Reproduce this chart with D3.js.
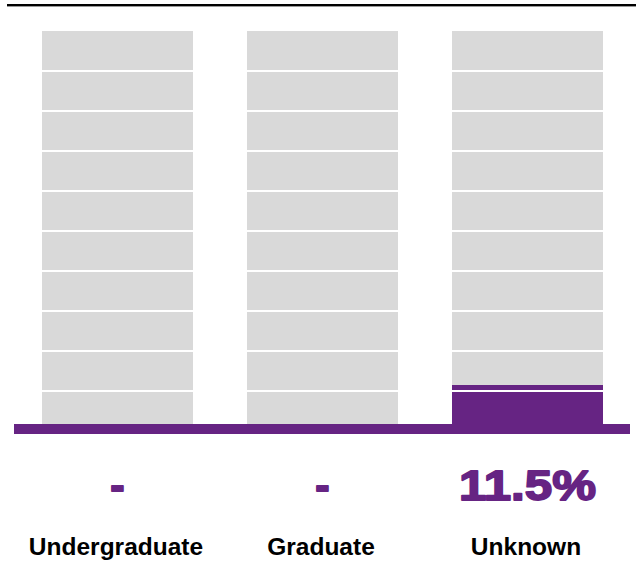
<!DOCTYPE html>
<html>
<head>
<meta charset="utf-8">
<script src="https://cdn.jsdelivr.net/npm/d3@7"></script>
<style>
  html, body { margin: 0; padding: 0; background: #fff; }
  svg { display: block; }
</style>
</head>
<body>
<svg id="chart" width="636" height="563"></svg>
<script>
const categories = ["Undergraduate", "Graduate", "Unknown"];
const values = [null, null, 11.5];
const valueLabels = ["-", "-", "11.5%"];
const gridTicks = [10, 20, 30, 40, 50, 60, 70, 80, 90];

const purple = "#662483";
const gray = "#d9d9d9";

const svg = d3.select("#chart");

const x = d3.scaleBand()
  .domain(categories)
  .range([42, 603])
  .paddingInner(0.2634)
  .paddingOuter(0);

const y = d3.scaleLinear()
  .domain([0, 100])
  .range([431, 31]);

// top rule
svg.append("rect")
  .attr("x", 7).attr("y", 4)
  .attr("width", 629).attr("height", 2.4)
  .attr("fill", "#000");

// gray background bars (100%)
svg.selectAll("rect.bg")
  .data(categories)
  .enter().append("rect")
  .attr("class", "bg")
  .attr("x", d => x(d))
  .attr("y", y(100))
  .attr("width", x.bandwidth())
  .attr("height", y(0) - y(100))
  .attr("fill", gray);

// value bars
svg.selectAll("rect.val")
  .data(categories.map((c, i) => ({c, v: values[i]})).filter(d => d.v != null))
  .enter().append("rect")
  .attr("class", "val")
  .attr("x", d => x(d.c))
  .attr("y", d => y(d.v))
  .attr("width", x.bandwidth())
  .attr("height", d => y(0) - y(d.v))
  .attr("fill", purple);

// white gridlines over the bars
categories.forEach(c => {
  svg.selectAll(null)
    .data(gridTicks)
    .enter().append("line")
    .attr("x1", x(c))
    .attr("x2", x(c) + x.bandwidth())
    .attr("y1", d => y(d))
    .attr("y2", d => y(d))
    .attr("stroke", "#fff")
    .attr("stroke-width", 2);
});

// purple baseline
svg.append("rect")
  .attr("x", 14).attr("y", 424)
  .attr("width", 616).attr("height", 10)
  .attr("fill", purple);

// value labels
svg.selectAll("text.vl")
  .data(categories.map((c, i) => ({c, t: valueLabels[i]})))
  .enter().append("text")
  .attr("class", "vl")
  .attr("x", d => x(d.c) + x.bandwidth() / 2)
  .attr("y", 500)
  .attr("text-anchor", "middle")
  .attr("font-family", "'Liberation Sans', Arial, sans-serif")
  .attr("font-weight", "bold")
  .attr("font-size", 43)
  .attr("fill", purple)
  .attr("stroke", purple)
  .attr("stroke-width", 1.8)
  .attr("stroke-linejoin", "round")
  .each(function(d) {
    if (d.t.length > 1) {
      d3.select(this)
        .attr("textLength", 137)
        .attr("lengthAdjust", "spacingAndGlyphs");
    }
  })
  .text(d => d.t);

// category labels
svg.selectAll("text.cl")
  .data(categories)
  .enter().append("text")
  .attr("class", "cl")
  .attr("x", d => x(d) + x.bandwidth() / 2 - 1.5)
  .attr("y", 555)
  .attr("text-anchor", "middle")
  .attr("font-family", "'Liberation Sans', Arial, sans-serif")
  .attr("font-weight", "bold")
  .attr("font-size", 24.5)
  .attr("fill", "#000")
  .text(d => d);
</script>
</body>
</html>
